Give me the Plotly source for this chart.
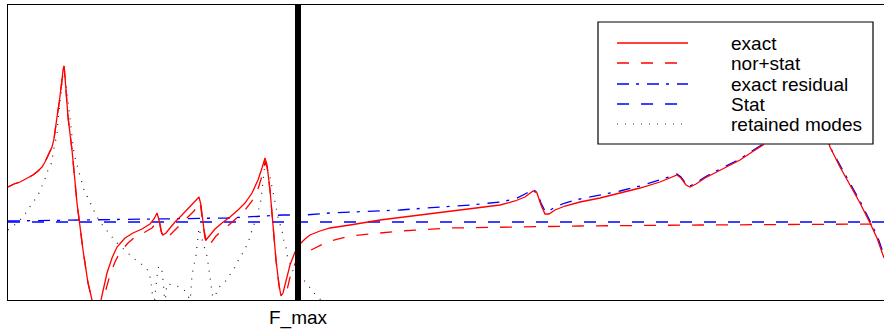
import plotly.graph_objects as go

# Frequency axis (Hz-like units), F_max = cutoff of retained modes
F_MAX = 290
F_END = 876
AMP_TOP = 295

# ---- exact response ----
exact_f = [0, 6, 12, 19, 25, 30, 34, 37, 39, 42, 44, 46, 47, 49, 51, 52, 54, 55, 56, 57, 60, 64, 69, 75, 80, 84, 88, 93,
           96, 99, 104, 109, 117, 125, 134, 142, 146, 149, 151, 153, 155, 158, 162, 167, 174, 182, 187,
           191, 193, 196, 198, 201, 207, 214, 222, 230, 237, 244, 250, 254, 257, 259, 262, 265, 268,
           271, 273, 275, 278, 282, 287, 290, 293, 297, 302, 312, 322, 342, 372, 412, 452, 492, 507,
           517, 525, 529, 533, 537, 541, 547, 557, 572, 592, 612, 632, 652, 664, 669, 673, 678, 682,
           688, 697, 712, 732, 744, 755, 767, 782, 792, 802, 814, 822, 832, 842, 852, 862, 869, 876]
exact_v = [113, 116, 118, 122, 125, 129, 133, 138, 142, 148, 153, 161, 167, 183, 196, 203, 220, 230, 234, 223, 183, 150, 97, 50, 17, 0, -20, 0,
           15, 27, 42, 53, 62, 67, 71, 76, 81, 87, 80, 69, 65, 67, 72, 78, 85, 93, 98,
           103, 95, 70, 60, 64, 71, 77, 83, 90, 97, 107, 120, 132, 142, 135, 110, 75, 40,
           15, 4, 7, 20, 35, 48, 53, 57, 61, 65, 69, 72, 75, 80, 85, 90, 95, 99,
           103, 109, 107, 95, 86, 86, 90, 94, 98, 102, 107, 112, 118, 123, 125, 122, 115, 113,
           116, 122, 130, 140, 148, 155, 180, 240, 270, 240, 180, 153, 133, 115, 97, 77, 62, 42]

# ---- normal modes + static correction ----
norstat_f = [0, 6, 12, 19, 25, 30, 34, 37, 39, 42, 44, 46, 47, 49, 51, 52, 54, 55, 56, 57, 60, 64, 69, 75, 80, 84, 90, 95,
             98, 102, 107, 112, 120, 127, 137, 144, 148, 150, 152, 154, 157, 160, 165, 172, 180, 186,
             192, 194, 197, 200, 203, 208, 215, 222, 230, 237, 244, 250, 254, 257, 259, 262, 265, 268,
             271, 274, 277, 279, 283, 287, 290, 297, 307, 319, 342, 392, 442, 492, 572, 692, 876]
norstat_v = [113, 116, 118, 122, 125, 129, 133, 138, 142, 148, 153, 161, 167, 183, 196, 203, 220, 230, 234, 223, 183, 150, 97, 50, 17, 0, -20, 0,
             10, 25, 38, 48, 57, 63, 68, 72, 77, 81, 76, 65, 61, 63, 68, 75, 83, 89,
             98, 85, 62, 53, 57, 64, 70, 76, 83, 90, 99, 111, 124, 138, 133, 110, 75, 40,
             15, -5, -5, 10, 27, 37, 43, 47, 52, 58, 64, 69, 72, 73, 74, 75, 76]

# ---- exact residual ----
resid_f = [0, 92, 159, 219, 275, 297, 322, 392, 432, 462, 492, 507, 517, 525, 529, 533, 537, 541, 547,
           557, 572, 592, 612, 632, 652, 664, 669, 673, 678, 682, 688, 697, 712, 732, 744, 755, 767,
           782, 792, 802, 814, 822, 833, 843, 853, 863, 870, 877]
resid_v = [79, 80, 81, 82, 85, 85, 87, 90, 93, 95, 98, 101, 106, 110, 108, 97, 89, 89, 93,
           97, 101, 105, 109, 114, 120, 124, 126, 123, 116, 114, 117, 123, 131, 141, 149, 156, 181,
           241, 271, 240, 180, 153, 133, 115, 97, 77, 62, 42]

# ---- static term ----
stat_f = [0, 876]
stat_v = [78, 78]

# ---- retained modes ----
modes_f = [0, 9, 15, 20, 25, 30, 37, 40, 44, 45, 47, 49, 50, 53, 54, 56, 58, 60, 62, 64, 66, 69, 72, 76, 80,
           84, 88, 92, 98, 104, 109, 116, 122, 129, 136, 141, 143, 145, 146, 147, 148, 149, 150, 152,
           154, 155, 156, 157, 158, 159, 166, 174, 178, 181, 182, 183, 184, 186, 188, 189, 190, 191,
           193, 196, 199, 200, 201, 202, 203, 204, 205, 206, 208, 210, 217, 222, 227, 231, 236, 240,
           245, 249, 251, 253, 254, 256, 257, 259, 262, 264, 265, 267, 269, 271, 274, 275, 278, 279,
           282, 285, 289, 295, 300, 306, 312, 318]
modes_v = [70, 77, 83, 90, 97, 105, 121, 130, 138, 147, 157, 165, 180, 207, 218, 234, 216, 198, 180, 163, 146, 135, 124, 110, 102,
           93, 85, 78, 70, 63, 57, 50, 45, 39, 34, 28, 18, 0, -8, 5, 14, 23, 32, 34,
           29, 20, 8, -4, 8, 16, 15, 12, 8, 2, -4, 10, 25, 35, 45, 54, 63, 72,
           64, 54, 44, 37, 29, 20, 13, 7, 0, -6, 6, 12, 18, 26, 33, 41, 49, 57,
           73, 83, 93, 100, 110, 127, 142, 132, 123, 113, 106, 97, 88, 78, 71, 62, 53, 45,
           37, 29, 24, 21, 15, 7, 1, -10]

legend_names = ["exact", "nor+stat", "exact residual", "Stat", "retained modes"]

styles = {
    "exact": dict(color="#ff0000", dash="solid", width=1.3),
    "nor+stat": dict(color="#ff0000", dash="12px,12px", width=1.3),
    "exact residual": dict(color="#0000ff", dash="12px,7px,3px,8px", width=1.3),
    "Stat": dict(color="#0000ff", dash="12px,12px", width=1.3),
    "retained modes": dict(color="#222222", dash="1px,7px", width=1.2),
}

data = {
    "exact": (exact_f, exact_v),
    "nor+stat": (norstat_f, norstat_v),
    "exact residual": (resid_f, resid_v),
    "Stat": (stat_f, stat_v),
    "retained modes": (modes_f, modes_v),
}

draw_order = ["Stat", "exact residual", "retained modes", "nor+stat", "exact"]

fig = go.Figure()
for name in draw_order:
    f, v = data[name]
    s = styles[name]
    fig.add_trace(go.Scatter(x=f, y=v, mode="lines", name=name, showlegend=False,
                             line=dict(color=s["color"], dash=s["dash"], width=s["width"])))

shapes = []
# thick marker at F_max
shapes.append(dict(type="line", xref="x", yref="y", x0=F_MAX, x1=F_MAX, y0=0, y1=AMP_TOP,
                   line=dict(color="black", width=6), layer="above"))
# legend box
LX0, LX1, LY0, LY1 = 590, 865, 156, 278
shapes.append(dict(type="rect", xref="x", yref="y", x0=LX0, x1=LX1, y0=LY0, y1=LY1,
                   fillcolor="white", line=dict(color="black", width=1.2), layer="above"))
row_y = [257, 237, 216, 196, 176]
annotations = []
for name, ry in zip(legend_names, row_y):
    s = styles[name]
    shapes.append(dict(type="line", xref="x", yref="y", x0=609, x1=680, y0=ry, y1=ry,
                       line=dict(color=s["color"], dash=s["dash"], width=s["width"]), layer="above"))
    annotations.append(dict(x=721, y=ry, xref="x", yref="y", text=name, showarrow=False,
                            xanchor="left", yanchor="middle",
                            font=dict(size=19, color="black", family="Liberation Sans, Arial, sans-serif")))

fig.update_layout(
    width=884, height=331,
    margin=dict(l=8, r=0, t=5, b=31),
    plot_bgcolor="white", paper_bgcolor="white",
    showlegend=False,
    font=dict(family="Liberation Sans, Arial, sans-serif", size=19, color="black"),
    shapes=shapes, annotations=annotations,
    xaxis=dict(range=[0, F_END], tickvals=[F_MAX], ticktext=["F_max"], ticks="",
               showgrid=False, zeroline=False, showline=True, linecolor="black", linewidth=1,
               mirror=True, tickfont=dict(size=19, color="black")),
    yaxis=dict(range=[0, AMP_TOP], showticklabels=False, ticks="", showgrid=False, zeroline=False,
               showline=True, linecolor="black", linewidth=1, mirror=False),
)

fig.write_html("out.html", config={"displayModeBar": False},
               post_script="document.body.style.margin='0';document.body.style.padding='0';document.body.style.overflow='hidden';")
